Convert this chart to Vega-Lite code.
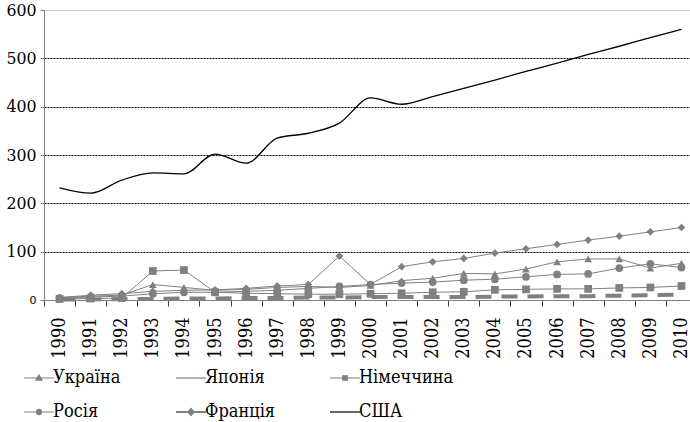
{
"$schema": "https://vega.github.io/schema/vega-lite/v6.json",
"width": 646, "height": 290,
"autosize": {"type": "none"},
"padding": {"left": 44, "top": 10, "right": 0, "bottom": 122},
"background": "white",
"config": {"view": {"stroke": null}, "font": "DejaVu Serif Condensed"},
"data": {"values": [
{"year":1990,"country":"Україна","value":5},{"year":1991,"country":"Україна","value":8},{"year":1992,"country":"Україна","value":10},{"year":1993,"country":"Україна","value":32},{"year":1994,"country":"Україна","value":26},{"year":1995,"country":"Україна","value":20},{"year":1996,"country":"Україна","value":22},{"year":1997,"country":"Україна","value":26},{"year":1998,"country":"Україна","value":28},{"year":1999,"country":"Україна","value":26},{"year":2000,"country":"Україна","value":30},{"year":2001,"country":"Україна","value":40},{"year":2002,"country":"Україна","value":45},{"year":2003,"country":"Україна","value":55},{"year":2004,"country":"Україна","value":54},{"year":2005,"country":"Україна","value":64},{"year":2006,"country":"Україна","value":79},{"year":2007,"country":"Україна","value":85},{"year":2008,"country":"Україна","value":85},{"year":2009,"country":"Україна","value":66},{"year":2010,"country":"Україна","value":76},
{"year":1990,"country":"Японія","value":1},{"year":1991,"country":"Японія","value":1},{"year":1992,"country":"Японія","value":2},{"year":1993,"country":"Японія","value":2},{"year":1994,"country":"Японія","value":3},{"year":1995,"country":"Японія","value":3},{"year":1996,"country":"Японія","value":4},{"year":1997,"country":"Японія","value":4},{"year":1998,"country":"Японія","value":5},{"year":1999,"country":"Японія","value":5},{"year":2000,"country":"Японія","value":6},{"year":2001,"country":"Японія","value":6},{"year":2002,"country":"Японія","value":6},{"year":2003,"country":"Японія","value":6},{"year":2004,"country":"Японія","value":7},{"year":2005,"country":"Японія","value":7},{"year":2006,"country":"Японія","value":8},{"year":2007,"country":"Японія","value":8},{"year":2008,"country":"Японія","value":9},{"year":2009,"country":"Японія","value":10},{"year":2010,"country":"Японія","value":11},
{"year":1990,"country":"Німеччина","value":2},{"year":1991,"country":"Німеччина","value":3},{"year":1992,"country":"Німеччина","value":4},{"year":1993,"country":"Німеччина","value":60},{"year":1994,"country":"Німеччина","value":62},{"year":1995,"country":"Німеччина","value":16},{"year":1996,"country":"Німеччина","value":14},{"year":1997,"country":"Німеччина","value":13},{"year":1998,"country":"Німеччина","value":12},{"year":1999,"country":"Німеччина","value":12},{"year":2000,"country":"Німеччина","value":13},{"year":2001,"country":"Німеччина","value":14},{"year":2002,"country":"Німеччина","value":16},{"year":2003,"country":"Німеччина","value":17},{"year":2004,"country":"Німеччина","value":21},{"year":2005,"country":"Німеччина","value":22},{"year":2006,"country":"Німеччина","value":23},{"year":2007,"country":"Німеччина","value":23},{"year":2008,"country":"Німеччина","value":25},{"year":2009,"country":"Німеччина","value":26},{"year":2010,"country":"Німеччина","value":29},
{"year":1990,"country":"Росія","value":4},{"year":1991,"country":"Росія","value":6},{"year":1992,"country":"Росія","value":8},{"year":1993,"country":"Росія","value":13},{"year":1994,"country":"Росія","value":16},{"year":1995,"country":"Росія","value":16},{"year":1996,"country":"Росія","value":18},{"year":1997,"country":"Росія","value":20},{"year":1998,"country":"Росія","value":24},{"year":1999,"country":"Росія","value":28},{"year":2000,"country":"Росія","value":32},{"year":2001,"country":"Росія","value":35},{"year":2002,"country":"Росія","value":37},{"year":2003,"country":"Росія","value":41},{"year":2004,"country":"Росія","value":43},{"year":2005,"country":"Росія","value":48},{"year":2006,"country":"Росія","value":53},{"year":2007,"country":"Росія","value":54},{"year":2008,"country":"Росія","value":66},{"year":2009,"country":"Росія","value":75},{"year":2010,"country":"Росія","value":67},
{"year":1990,"country":"Франція","value":5},{"year":1991,"country":"Франція","value":10},{"year":1992,"country":"Франція","value":13},{"year":1993,"country":"Франція","value":18},{"year":1994,"country":"Франція","value":20},{"year":1995,"country":"Франція","value":21},{"year":1996,"country":"Франція","value":24},{"year":1997,"country":"Франція","value":29},{"year":1998,"country":"Франція","value":32},{"year":1999,"country":"Франція","value":91},{"year":2000,"country":"Франція","value":32},{"year":2001,"country":"Франція","value":69},{"year":2002,"country":"Франція","value":79},{"year":2003,"country":"Франція","value":86},{"year":2004,"country":"Франція","value":97},{"year":2005,"country":"Франція","value":106},{"year":2006,"country":"Франція","value":115},{"year":2007,"country":"Франція","value":124},{"year":2008,"country":"Франція","value":132},{"year":2009,"country":"Франція","value":141},{"year":2010,"country":"Франція","value":150},
{"year":1990,"country":"США","value":232},{"year":1991,"country":"США","value":221},{"year":1992,"country":"США","value":248},{"year":1993,"country":"США","value":263},{"year":1994,"country":"США","value":261},{"year":1995,"country":"США","value":302},{"year":1996,"country":"США","value":283},{"year":1997,"country":"США","value":335},{"year":1998,"country":"США","value":345},{"year":1999,"country":"США","value":366},{"year":2000,"country":"США","value":418},{"year":2001,"country":"США","value":405},{"year":2002,"country":"США","value":421},{"year":2003,"country":"США","value":438},{"year":2004,"country":"США","value":455},{"year":2005,"country":"США","value":473},{"year":2006,"country":"США","value":490},{"year":2007,"country":"США","value":508},{"year":2008,"country":"США","value":525},{"year":2009,"country":"США","value":543},{"year":2010,"country":"США","value":560}
]},
"encoding": {
  "x": {"field": "year", "type": "ordinal",
    "scale": {"type": "band", "range": [0, 653], "paddingInner": 0, "paddingOuter": 0},
    "axis": {"title": null, "labelAngle": -90, "labelFontSize": 18, "labelFont": "DejaVu Serif Condensed", "labelColor": "black", "labelPadding": 11, "tickSize": 6, "tickColor": "#404040", "domainColor": "#808080", "tickBand": "extent", "grid": false}},
  "y": {"field": "value", "type": "quantitative",
    "scale": {"domain": [0, 600], "nice": false},
    "axis": {"title": null, "values": [0, 100, 200, 300, 400, 500, 600],
      "labelFontSize": {"condition": {"test": "datum.value == 0", "value": 11}, "value": 17.5},
      "labelFont": {"condition": {"test": "datum.value == 0", "value": "DejaVu Sans"}, "value": "DejaVu Serif Condensed"},
      "labelColor": "black", "labelPadding": 4, "tickSize": 4, "tickColor": "#808080", "domainColor": "#808080",
      "grid": true,
      "gridColor": {"condition": {"test": "datum.value == 600", "value": "#c8c8c8"}, "value": "black"},
      "gridDash": {"condition": {"test": "datum.value == 600", "value": []}, "value": [2, 1]},
      "gridOpacity": {"condition": {"test": "datum.value == 0", "value": 0}, "value": 1},
      "gridWidth": 1.2}},
  "color": {"field": "country", "type": "nominal",
    "scale": {"domain": ["Україна", "Японія", "Німеччина", "Росія", "Франція", "США"], "range": ["#808080", "#808080", "#808080", "#808080", "#808080", "black"]},
    "legend": {"orient": "none", "legendX": -14, "legendY": 359, "direction": "horizontal", "columns": 3, "title": null,
      "labelFont": "DejaVu Serif Condensed", "labelFontSize": 18, "labelColor": "black", "labelOffset": 5,
      "symbolSize": 900, "columnPadding": 51, "rowPadding": 16, "padding": 0, "gridAlign": "each",
      "encode": {"symbols": {"update": {
        "shape": {"signal": "datum.value === 'Україна' ? 'M-1,0H1M-0.2,0.14L0,-0.2L0.2,0.14Z' : datum.value === 'Німеччина' ? 'M-1,0H1M-0.15,-0.15H0.15V0.15H-0.15Z' : datum.value === 'Росія' ? 'M-1,0H1M-0.17,0A0.17,0.17,0,1,0,0.17,0A0.17,0.17,0,1,0,-0.17,0Z' : datum.value === 'Франція' ? 'M-1,0H1M0,-0.2L0.17,0L0,0.2L-0.17,0Z' : 'M-1,0H1'"},
        "fill": {"signal": "datum.value === 'США' ? 'black' : '#808080'"},
        "stroke": {"signal": "datum.value === 'США' ? 'black' : '#808080'"},
        "strokeWidth": {"signal": "datum.value === 'Франція' ? 2 : 1.2"},
        "strokeDash": {"value": []},
        "opacity": {"value": 1}
      }}}}}
},
"layer": [
  {"transform": [{"filter": {"field": "country", "oneOf": ["Україна", "Німеччина", "Росія", "Франція"]}}],
   "mark": {"type": "line", "strokeWidth": 1}},
  {"transform": [{"filter": {"field": "country", "equal": "Японія"}}],
   "mark": {"type": "line", "strokeWidth": 4, "strokeDash": [16, 10]}},
  {"transform": [{"filter": {"field": "country", "oneOf": ["Україна", "Німеччина", "Росія", "Франція"]}}],
   "mark": {"type": "point", "filled": true, "opacity": 1},
   "encoding": {
     "shape": {"field": "country", "type": "nominal", "legend": null,
       "scale": {"domain": ["Україна", "Німеччина", "Росія", "Франція"], "range": ["triangle-up", "square", "circle", "diamond"]}},
     "size": {"field": "country", "type": "nominal", "legend": null,
       "scale": {"domain": ["Україна", "Німеччина", "Росія", "Франція"], "range": [60, 60, 45, 55]}}}},
  {"transform": [{"filter": {"field": "country", "equal": "США"}}],
   "mark": {"type": "line", "strokeWidth": 1.3, "interpolate": "monotone"}}
]
}
